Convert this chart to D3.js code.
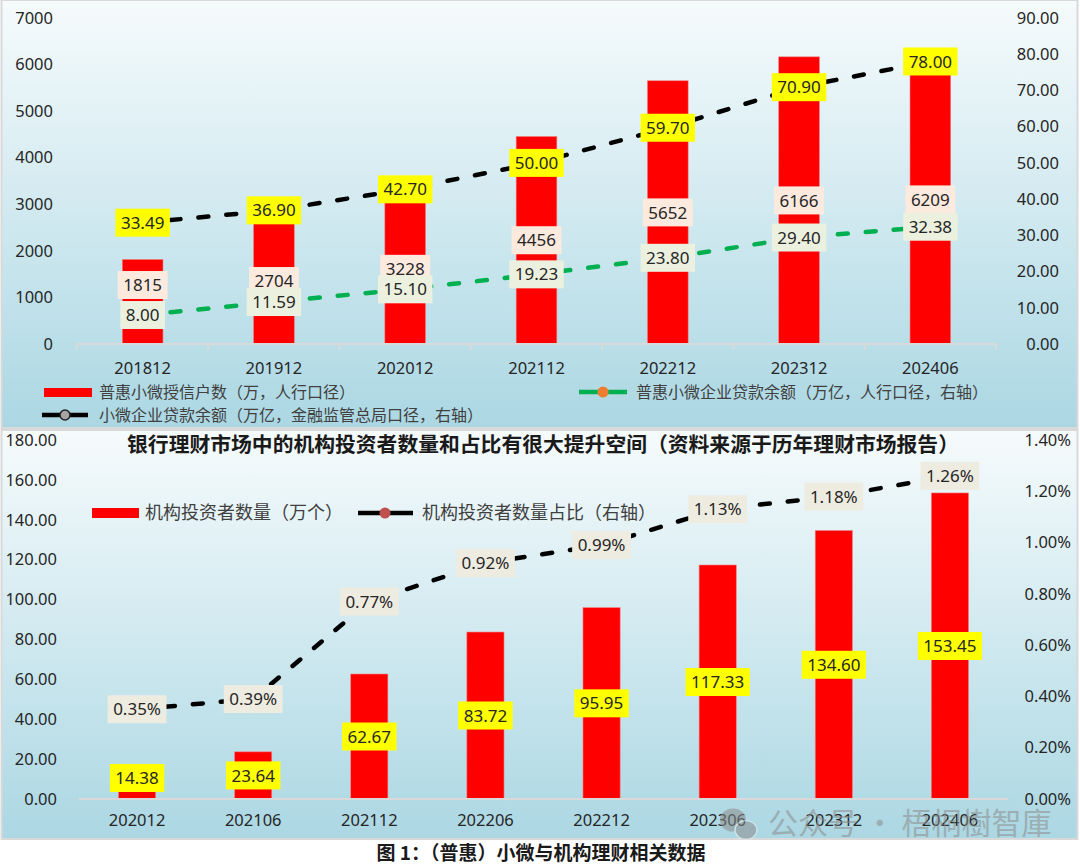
<!DOCTYPE html>
<html><head><meta charset="utf-8">
<script src="https://cdn.jsdelivr.net/npm/d3@7"></script>
<style>
body{margin:0;background:#fff;}
svg{display:block;}
</style></head><body>
<svg id="c" width="1080" height="867"></svg>
<script>
// ---------------- data ----------------
const topCategories = ["201812","201912","202012","202112","202212","202312","202406"];
const creditHouseholds = [1815,2704,3228,4456,5652,6166,6209];
const inclusiveLoans = [8.00,11.59,15.10,19.23,23.80,29.40,32.38];
const smallMicroLoans = [33.49,36.90,42.70,50.00,59.70,70.90,78.00];
const topLeftTicks = [0,1000,2000,3000,4000,5000,6000,7000];
const topRightTicks = [0,10,20,30,40,50,60,70,80,90];
const topLegend = ["普惠小微授信户数（万，人行口径）","普惠小微企业贷款余额（万亿，人行口径，右轴）","小微企业贷款余额（万亿，金融监管总局口径，右轴）"];

const bottomCategories = ["202012","202106","202112","202206","202212","202306","202312","202406"];
const institutionCounts = [14.38,23.64,62.67,83.72,95.95,117.33,134.60,153.45];
const institutionShare = [0.35,0.39,0.77,0.92,0.99,1.13,1.18,1.26];
const bottomLeftTicks = [0,20,40,60,80,100,120,140,160,180];
const bottomRightTicks = [0,0.2,0.4,0.6,0.8,1.0,1.2,1.4];
const bottomTitle = "银行理财市场中的机构投资者数量和占比有很大提升空间（资料来源于历年理财市场报告）";
const bottomLegend = ["机构投资者数量（万个）","机构投资者数量占比（右轴）"];
const caption = "图 1：（普惠）小微与机构理财相关数据";
const watermark = "公众号 · 梧桐樹智庫";

// ---------------- setup ----------------
const svg = d3.select("#c");
const NUM = "'Noto Sans', 'Open Sans', sans-serif";
const CJK = "'Noto Sans CJK SC', 'Noto Sans', sans-serif";
const TXT = "#262626";

const defs = svg.append("defs");
const grad = defs.append("linearGradient").attr("id","bg").attr("x1",0).attr("y1",0).attr("x2",0).attr("y2",1);
grad.append("stop").attr("offset","0%").attr("stop-color","#f6fbfc");
grad.append("stop").attr("offset","100%").attr("stop-color","#abd7e3");

// panels
svg.append("rect").attr("x",1.5).attr("y",0).attr("width",1076).attr("height",428)
  .attr("fill","url(#bg)").attr("stroke","#d9d9d9").attr("stroke-width",2);
svg.append("rect").attr("x",1.5).attr("y",430).attr("width",1076).attr("height",409)
  .attr("fill","url(#bg)").attr("stroke","#d9d9d9").attr("stroke-width",2);

function labelBox(g, x, y, text, fill, size) {
  const grp = g.append("g");
  const r = grp.append("rect");
  const t = grp.append("text").attr("x",x).attr("y",y).attr("dy","0.36em")
    .attr("text-anchor","middle").attr("font-family",NUM).attr("font-size",size||17)
    .attr("fill",TXT).text(text);
  const w = t.node().getComputedTextLength() + 11;
  r.attr("x",x-w/2).attr("y",y-14).attr("width",w).attr("height",28).attr("fill",fill);
  return grp;
}

function styleAxis(g, anchor) {
  g.select(".domain").remove();
  g.selectAll("line").remove();
  g.selectAll("text").attr("font-family",NUM).attr("font-size",16.5).attr("fill",TXT)
    .attr("text-anchor",anchor);
}

// ================= TOP CHART =================
{
  const xL = 77, xR = 996, yB = 344, yT = 18;
  const x = d3.scaleBand().domain(topCategories).range([xL,xR]).paddingInner(0.69).paddingOuter(0.345);
  const xc = d => x(d) + x.bandwidth()/2;
  const yL = d3.scaleLinear().domain([0,7000]).range([yB,yT]);
  const yR = d3.scaleLinear().domain([0,90]).range([yB,yT]);
  const g = svg.append("g");

  // axes
  const la = g.append("g").attr("transform",`translate(53,0)`)
    .call(d3.axisLeft(yL).tickValues(topLeftTicks).tickSize(0).tickPadding(0).tickFormat(d3.format("d")));
  styleAxis(la,"end");
  const ra = g.append("g").attr("transform",`translate(1059,0)`)
    .call(d3.axisRight(yR).tickValues(topRightTicks).tickSize(0).tickPadding(0).tickFormat(d3.format(".2f")));
  styleAxis(ra,"end");

  // bars
  g.selectAll(".bar").data(topCategories).join("rect")
    .attr("x",d=>x(d)).attr("width",x.bandwidth())
    .attr("y",(d,i)=>yL(creditHouseholds[i])).attr("height",(d,i)=>yB-yL(creditHouseholds[i]))
    .attr("fill","#ff0000").attr("stroke","#f08080").attr("stroke-width",0.6);

  // x axis line + ticks
  g.append("line").attr("x1",xL).attr("x2",xR).attr("y1",yB).attr("y2",yB).attr("stroke","#d9d9d9").attr("stroke-width",2);
  const step = x.step();
  d3.range(topCategories.length+1).forEach(i=>{
    g.append("line").attr("x1",xL+i*step).attr("x2",xL+i*step).attr("y1",yB).attr("y2",yB+6)
      .attr("stroke","#d9d9d9").attr("stroke-width",2);
  });
  const xa = g.append("g").attr("transform",`translate(0,${yB})`)
    .call(d3.axisBottom(x).tickSize(0).tickPadding(18));
  styleAxis(xa,"middle");

  // lines
  const lineGreen = d3.line().x((d,i)=>xc(topCategories[i])).y(d=>yR(d));
  g.append("path").datum(inclusiveLoans).attr("d",lineGreen).attr("fill","none")
    .attr("stroke","#00b050").attr("stroke-width",4.5).attr("stroke-dasharray","10,18").attr("stroke-linecap","round");
  g.append("path").datum(smallMicroLoans).attr("d",lineGreen).attr("fill","none")
    .attr("stroke","#000").attr("stroke-width",4.5).attr("stroke-dasharray","10,18").attr("stroke-linecap","round");

  // labels
  creditHouseholds.forEach((v,i)=>{
    let cy = (yL(v)+yB)/2;
    const gy = yR(inclusiveLoans[i]);
    if (gy - cy < 16) cy = gy - 30;
    labelBox(g, xc(topCategories[i]), cy, String(v), "#fdeadf");
  });
  inclusiveLoans.forEach((v,i)=>labelBox(g, xc(topCategories[i]), yR(v), v.toFixed(2), "#ebf1de"));
  smallMicroLoans.forEach((v,i)=>labelBox(g, xc(topCategories[i]), yR(v), v.toFixed(2), "#ffff00"));

  // legend
  const lg = g.append("g");
  lg.append("rect").attr("x",44).attr("y",388).attr("width",48).attr("height",9).attr("fill","#ff0000");
  lg.append("text").attr("x",99).attr("y",392).attr("dy","0.35em").attr("font-family",CJK).attr("font-size",16).attr("fill","#404040").text(topLegend[0]);
  lg.append("line").attr("x1",579).attr("x2",627).attr("y1",392).attr("y2",392).attr("stroke","#00b050").attr("stroke-width",4.5);
  lg.append("circle").attr("cx",603).attr("cy",392).attr("r",5.5).attr("fill","#ed7d31");
  lg.append("text").attr("x",636).attr("y",392).attr("dy","0.35em").attr("font-family",CJK).attr("font-size",16).attr("fill","#404040").text(topLegend[1]);
  lg.append("line").attr("x1",42).attr("x2",88).attr("y1",415).attr("y2",415).attr("stroke","#000").attr("stroke-width",4.5);
  lg.append("circle").attr("cx",65).attr("cy",415).attr("r",5).attr("fill","#a5a5a5").attr("stroke","#222").attr("stroke-width",1.5);
  lg.append("text").attr("x",99).attr("y",415).attr("dy","0.35em").attr("font-family",CJK).attr("font-size",16).attr("fill","#404040").text(topLegend[2]);
}

// ================= BOTTOM CHART =================
{
  const xL = 79, xR = 1008, yB = 799, yT = 440;
  const x = d3.scaleBand().domain(bottomCategories).range([xL,xR]).paddingInner(0.68).paddingOuter(0.34);
  const xc = d => x(d) + x.bandwidth()/2;
  const yL = d3.scaleLinear().domain([0,180]).range([yB,yT]);
  const yR = d3.scaleLinear().domain([0,1.4]).range([yB,yT]);
  const g = svg.append("g");

  const la = g.append("g").attr("transform",`translate(57,0)`)
    .call(d3.axisLeft(yL).tickValues(bottomLeftTicks).tickSize(0).tickPadding(0).tickFormat(d3.format(".2f")));
  styleAxis(la,"end");
  const ra = g.append("g").attr("transform",`translate(1071,0)`)
    .call(d3.axisRight(yR).tickValues(bottomRightTicks).tickSize(0).tickPadding(0).tickFormat(d=>d.toFixed(2)+"%"));
  styleAxis(ra,"end");

  // title
  g.append("text").attr("x",543).attr("y",445).attr("dy","0.36em").attr("text-anchor","middle")
    .attr("font-family",CJK).attr("font-weight","bold").attr("font-size",20.8).attr("fill","#1a1a1a").text(bottomTitle);

  // bars
  g.selectAll(".bar").data(bottomCategories).join("rect")
    .attr("x",d=>x(d)).attr("width",x.bandwidth())
    .attr("y",(d,i)=>yL(institutionCounts[i])).attr("height",(d,i)=>yB-yL(institutionCounts[i]))
    .attr("fill","#ff0000").attr("stroke","#f08080").attr("stroke-width",0.6);

  g.append("line").attr("x1",xL).attr("x2",xR).attr("y1",yB).attr("y2",yB).attr("stroke","#d9d9d9").attr("stroke-width",2);
  const xa = g.append("g").attr("transform",`translate(0,${yB})`)
    .call(d3.axisBottom(x).tickSize(0).tickPadding(15));
  styleAxis(xa,"middle");

  // line
  const line = d3.line().x((d,i)=>xc(bottomCategories[i])).y(d=>yR(d));
  g.append("path").datum(institutionShare).attr("d",line).attr("fill","none")
    .attr("stroke","#000").attr("stroke-width",4.5).attr("stroke-dasharray","10,18").attr("stroke-linecap","round");

  // labels
  institutionCounts.forEach((v,i)=>{
    let cy = (yL(v)+yB)/2;
    cy = Math.min(cy, yB-21);
    labelBox(g, xc(bottomCategories[i]), cy, v.toFixed(2), "#ffff00");
  });
  institutionShare.forEach((v,i)=>labelBox(g, xc(bottomCategories[i]), yR(v), v.toFixed(2)+"%", "#eeece1"));

  // legend
  const lg = g.append("g");
  lg.append("rect").attr("x",92).attr("y",508).attr("width",47).attr("height",10).attr("fill","#ff0000");
  lg.append("text").attr("x",145).attr("y",513).attr("dy","0.35em").attr("font-family",CJK).attr("font-size",18).attr("fill","#404040").text(bottomLegend[0]);
  lg.append("line").attr("x1",358).attr("x2",413).attr("y1",513).attr("y2",513).attr("stroke","#000").attr("stroke-width",4.5);
  lg.append("circle").attr("cx",385).attr("cy",513).attr("r",5.5).attr("fill","#c0504d");
  lg.append("text").attr("x",422).attr("y",513).attr("dy","0.35em").attr("font-family",CJK).attr("font-size",18).attr("fill","#404040").text(bottomLegend[1]);
}

// caption
svg.append("text").attr("x",541).attr("y",853).attr("dy","0.36em").attr("text-anchor","middle")
  .attr("font-family",CJK).attr("font-weight","bold").attr("font-size",19).attr("fill","#1a1a1a").text(caption);

// watermark
{
  const w = svg.append("g").attr("opacity",0.55);
  w.append("ellipse").attr("cx",733).attr("cy",820).attr("rx",13).attr("ry",11.5).attr("fill","#8c8c8c");
  w.append("ellipse").attr("cx",746).attr("cy",830).attr("rx",11).attr("ry",9.5).attr("fill","#8c8c8c").attr("stroke","#e0eef2").attr("stroke-width",1.5);
  w.append("text").attr("x",768).attr("y",823).attr("dy","0.36em").attr("font-family",CJK).attr("font-size",30)
    .attr("fill","#8c8c8c").text(watermark);
}
</script>
</body></html>
